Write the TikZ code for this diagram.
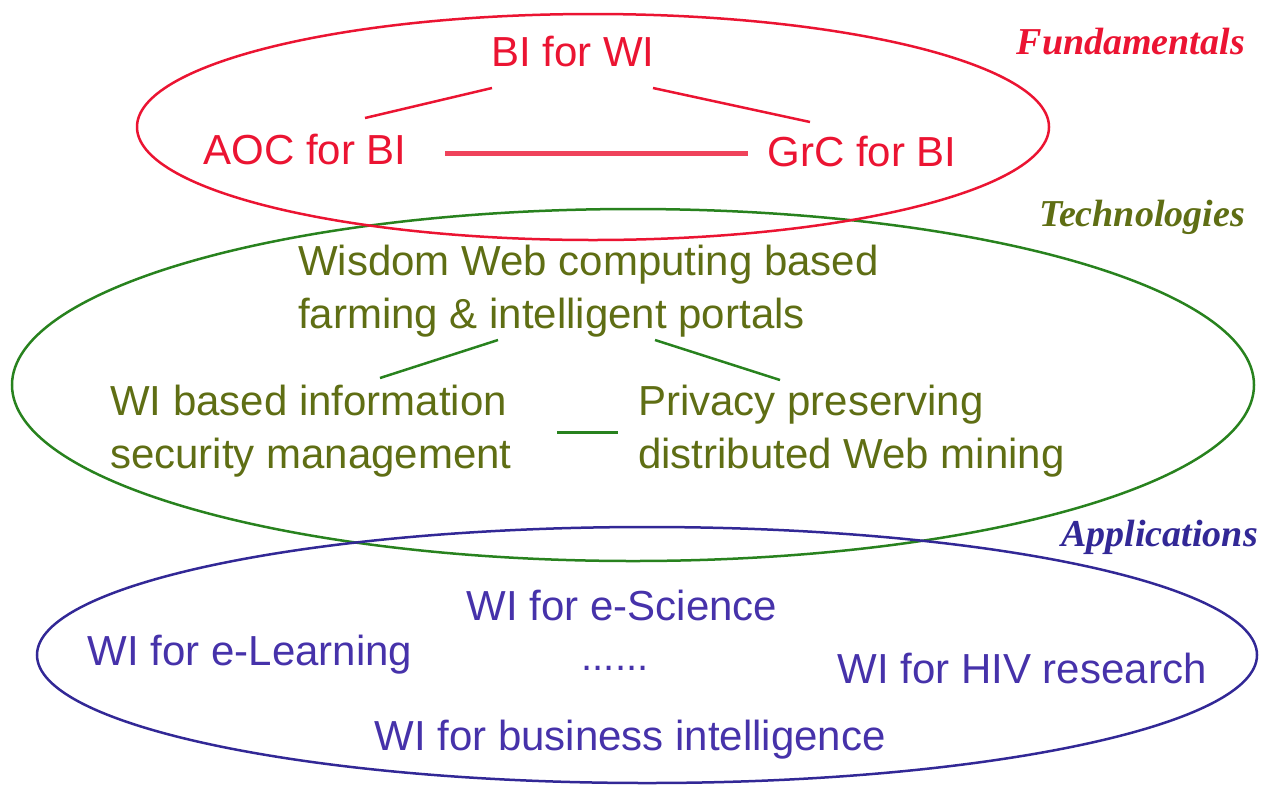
\documentclass[tikz,border=0pt]{standalone}
\usepackage{fontspec}
\setmainfont{Liberation Sans}
\newfontfamily\labfont{Liberation Serif}
\definecolor{cred}{RGB}{235,20,50}
\definecolor{cgreen}{RGB}{40,130,30}
\definecolor{colive}{RGB}{95,110,20}
\definecolor{cblue}{RGB}{50,40,150}
\definecolor{cblue2}{RGB}{70,50,170}
\begin{document}
\begin{tikzpicture}[x=1pt,y=-1pt,
  txt/.style={inner sep=0pt,font=\fontsize{42}{53}\selectfont},
  ltxt/.style={txt,align=left,anchor=west},
  lab/.style={inner sep=0pt,font=\labfont\bfseries\itshape\fontsize{38}{38}\selectfont},
  ell/.style={line width=2.5pt}]
\useasboundingbox (0,0) rectangle (1263,788);
% ellipses
\draw[ell,cgreen] (633,385) ellipse [x radius=621, y radius=176];
\draw[ell,cblue] (647,655) ellipse [x radius=610, y radius=128];
\draw[ell,cred] (593,127) ellipse [x radius=456, y radius=113];
% labels
\node[lab,cred,anchor=east] (lf) at (1245,42) {Fundamentals};
\node[lab,colive,anchor=east] (lt) at (1245,217) {Technologies};
\node[lab,cblue,anchor=east] (la) at (1258,537) {Applications};
% fundamentals
\node[txt,cred] (biwi) at (573,52) {BI for WI};
\node[txt,cred] (aoc) at (305,150) {AOC for BI};
\node[txt,cred] (grc) at (862,152) {GrC for BI};
\coordinate (f1) at (365,118); \coordinate (f2) at (492,88);
\coordinate (f3) at (653,88);  \coordinate (f4) at (810,122);
\coordinate (f5) at (445,153); \coordinate (f6) at (748,153);
\draw[cred,line width=2.5pt] (f1) -- (f2);
\draw[cred,line width=2.5pt] (f3) -- (f4);
\draw[cred!80,line width=5pt] (f5) -- (f6);
% technologies
\node[ltxt,colive] (wwc) at (298,291) {Wisdom Web computing based\\farming \& intelligent portals};
\node[ltxt,colive] (wis) at (110,431) {WI based information\\security management};
\node[ltxt,colive] (pp) at (638,431) {Privacy preserving\\distributed Web mining};
\coordinate (t1) at (380,378); \coordinate (t2) at (498,340);
\coordinate (t3) at (655,340); \coordinate (t4) at (780,380);
\coordinate (t5) at (557,432); \coordinate (t6) at (618,432);
\draw[cgreen,line width=2.5pt] (t1) -- (t2);
\draw[cgreen,line width=2.5pt] (t3) -- (t4);
\draw[cgreen,line width=3pt] (t5) -- (t6);
% applications
\node[txt,cblue2] (esci) at (622,605) {WI for e-Science};
\node[txt,cblue2] (elearn) at (250,655) {WI for e-Learning};
\node[txt,cblue2,font=\fontsize{40}{40}\selectfont] (dots) at (615,668) {......};
\node[txt,cblue2] (hiv) at (1022,668) {WI for HIV research};
\node[txt,cblue2] (bus) at (630,740) {WI for business intelligence};
\end{tikzpicture}
\end{document}
